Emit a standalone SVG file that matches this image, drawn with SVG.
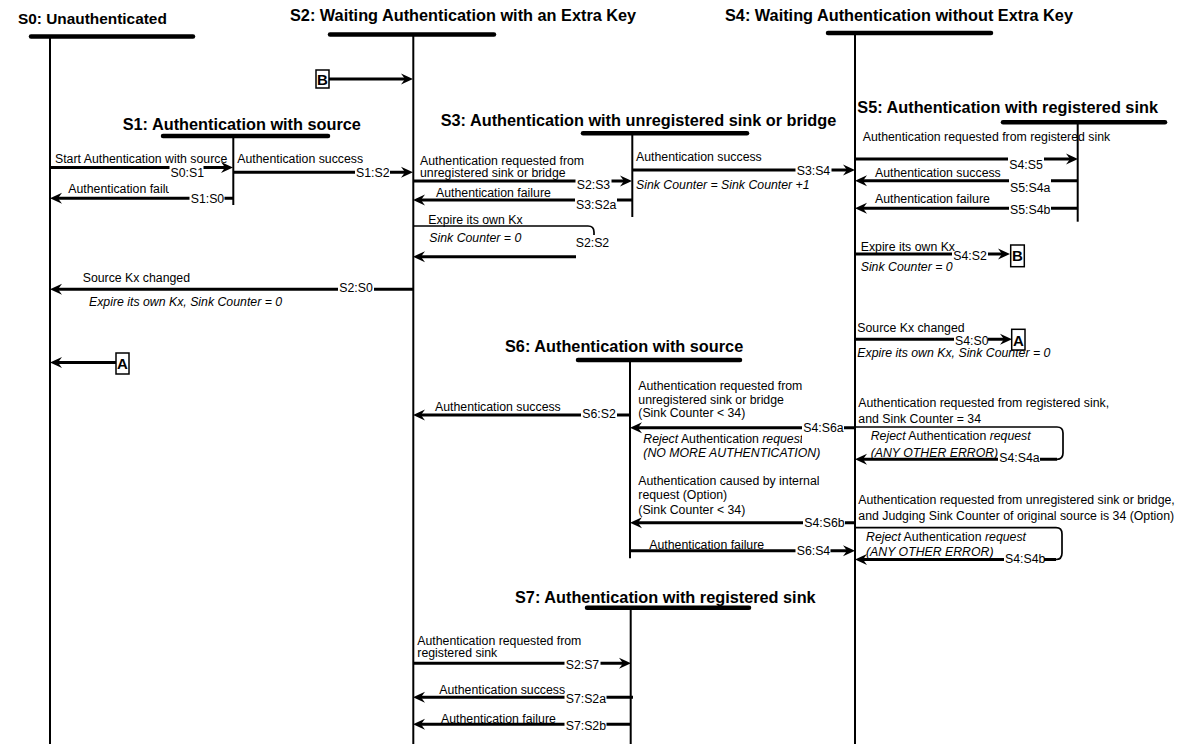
<svg xmlns="http://www.w3.org/2000/svg" width="1177" height="744" viewBox="0 0 1177 744">
<style>
.t{font-family:"Liberation Sans",Arial,sans-serif;font-size:16.3px;font-weight:bold;fill:#000}
.l{font-family:"Liberation Sans",Arial,sans-serif;font-size:12.3px;fill:#000}
.i{font-style:italic}
.bx{font-family:"Liberation Sans",Arial,sans-serif;font-size:15px;font-weight:bold;text-anchor:middle}
.bar{stroke:#000;stroke-width:4.5;stroke-linecap:round}
.life{stroke:#000;stroke-width:2}
.c{stroke:#000;stroke-width:3;fill:none}
.a{marker-end:url(#ah)}
.thin{stroke:#000;stroke-width:1.7;fill:none}
.bg{fill:#fff}
.box{fill:#fff;stroke:#000;stroke-width:1.5}
</style>
<defs>
<marker id="ah" viewBox="0 0 12 12" refX="4" refY="6" markerWidth="12" markerHeight="12" markerUnits="userSpaceOnUse" orient="auto"><path d="M0,0.5 L12,6 L0,11.5 L4,6 Z" fill="#000"/></marker>
<clipPath id="clip1"><rect x="0" y="170" width="169" height="40"/></clipPath>
<clipPath id="clip2"><rect x="600" y="425" width="202" height="25"/></clipPath>
</defs>
<rect width="1177" height="744" fill="#fff"/>

<g id="S0">
<text class="t" x="18" y="24" style="font-size:15.4px">S0: Unauthenticated</text>
<line class="bar" x1="31" y1="36.5" x2="193" y2="36.5"/>
<line class="life" x1="50" y1="36" x2="50" y2="744"/>
</g>
<g id="S2">
<text class="t" x="290" y="21">S2: Waiting Authentication with an Extra Key</text>
<line class="bar" x1="330" y1="34.5" x2="494" y2="34.5"/>
<line class="life" x1="413.3" y1="34" x2="413.3" y2="744"/>
</g>
<g id="S4">
<text class="t" x="725" y="21">S4: Waiting Authentication without Extra Key</text>
<line class="bar" x1="828" y1="33" x2="991" y2="33"/>
<line class="life" x1="855" y1="33" x2="855" y2="744"/>
</g>
<g id="S1">
<text class="t" x="122.7" y="130">S1: Authentication with source</text>
<line class="bar" x1="163" y1="136" x2="328" y2="136"/>
<line class="life" x1="233.3" y1="136" x2="233.3" y2="205"/>
</g>
<g id="S3">
<text class="t" x="440.7" y="125.5">S3: Authentication with unregistered sink or bridge</text>
<line class="bar" x1="583" y1="133.3" x2="747" y2="133.3"/>
<line class="life" x1="632.3" y1="133" x2="632.3" y2="217"/>
</g>
<g id="S5">
<text class="t" x="857.3" y="113.3">S5: Authentication with registered sink</text>
<line class="bar" x1="1003" y1="122.3" x2="1165" y2="122.3"/>
<line class="life" x1="1077.7" y1="122" x2="1077.7" y2="221.7"/>
</g>
<g id="S6">
<text class="t" x="505" y="351.7">S6: Authentication with source</text>
<line class="bar" x1="578" y1="360" x2="740" y2="360"/>
<line class="life" x1="630" y1="360" x2="630" y2="558.3"/>
</g>
<g id="S7">
<text class="t" x="515" y="602.7">S7: Authentication with registered sink</text>
<line class="bar" x1="587" y1="607.7" x2="749" y2="607.7"/>
<line class="life" x1="630.7" y1="607.7" x2="630.7" y2="744"/>
</g>

<g id="connectors">
<!-- lines -->
<path class="c a" d="M329,79 H405"/>
<path class="c a" d="M116,362.5 H58"/>
<path class="c a" d="M50,167.5 H225"/>
<path class="c a" d="M233,172.3 H405"/>
<path class="c a" d="M233,198.3 H58"/>
<path class="c a" d="M413,289.3 H58"/>
<path class="c a" d="M413,181 H624"/>
<path class="c a" d="M632,200 H421"/>
<path class="thin" d="M413,226 H588 Q594,226 594,232 V236"/>
<path class="c a" d="M576,256.7 H421"/>
<path class="c a" d="M632,170 H847"/>
<path class="c a" d="M855,159 H1070"/>
<path class="c a" d="M1078,180.7 H863"/>
<path class="c a" d="M1078,208.3 H863"/>
<path class="c a" d="M855,254 H1002"/>
<path class="c a" d="M855,339.3 H1004"/>
<path class="c a" d="M855,427.7 H638"/>
<path class="thin" d="M855,427 H1057 Q1063,427 1063,433 V453 Q1063,459.3 1057,459.3"/>
<path class="c a" d="M1057,459.3 H863"/>
<path class="c a" d="M630,415 H421"/>
<path class="c a" d="M855,522.7 H638"/>
<path class="c a" d="M630,550.7 H847"/>
<path class="thin" d="M855,527.7 H1056 Q1062,527.7 1062,534 V553 Q1062,559.5 1056,559.5"/>
<path class="c a" d="M1056,559.5 H863"/>
<path class="c a" d="M413,663.3 H623"/>
<path class="c a" d="M633,697.3 H421"/>
<path class="c a" d="M631,724.3 H421"/>

<!-- label backgrounds -->
<rect class="bg" x="169.5" y="165" width="34" height="14"/>
<rect class="bg" x="355" y="165" width="35" height="14"/>
<rect class="bg" x="189.5" y="191" width="35" height="14"/>
<rect class="bg" x="338" y="280" width="36" height="14"/>
<rect class="bg" x="575.5" y="177" width="36" height="14"/>
<rect class="bg" x="575" y="197" width="42" height="14"/>
<rect class="bg" x="575" y="235" width="36" height="14"/>
<rect class="bg" x="795.5" y="163.5" width="36" height="14"/>
<rect class="bg" x="1008" y="157" width="36" height="14"/>
<rect class="bg" x="1009" y="179" width="42" height="14"/>
<rect class="bg" x="1009" y="202" width="42" height="14"/>
<rect class="bg" x="952" y="250" width="36" height="12"/>
<rect class="bg" x="954" y="336" width="34" height="11"/>
<rect class="bg" x="802" y="421" width="42" height="13"/>
<rect class="bg" x="998" y="452.5" width="42" height="12"/>
<rect class="bg" x="581" y="408" width="36" height="13"/>
<rect class="bg" x="803" y="516" width="42" height="13"/>
<rect class="bg" x="795.5" y="545" width="35" height="12.5"/>
<rect class="bg" x="1004" y="554" width="40" height="12"/>
<rect class="bg" x="564.5" y="658" width="36" height="13"/>
<rect class="bg" x="564.5" y="692" width="42" height="13"/>
<rect class="bg" x="564.5" y="719" width="42" height="13"/>

<!-- labels -->
<text class="l" x="55" y="163">Start Authentication with source</text>
<text class="l" x="170.5" y="176.7">S0:S1</text>
<text class="l" x="237.3" y="163">Authentication success</text>
<text class="l" x="356" y="176.5">S1:S2</text>
<text class="l" x="68.3" y="193" clip-path="url(#clip1)">Authentication failure</text>
<text class="l" x="190.7" y="202.5">S1:S0</text>
<text class="l" x="82.7" y="281.5">Source Kx changed</text>
<text class="l" x="339.3" y="291.5">S2:S0</text>
<text class="l i" x="89" y="306">Expire its own Kx, Sink Counter = 0</text>

<text class="l" x="420" y="164.5">Authentication requested from</text>
<text class="l" x="420" y="177">unregistered sink or bridge</text>
<text class="l" x="576.7" y="188.5">S2:S3</text>
<text class="l" x="436" y="197">Authentication failure</text>
<text class="l" x="576" y="208.5">S3:S2a</text>
<text class="l" x="428.3" y="224">Expire its own Kx</text>
<text class="l i" x="429.3" y="241.5">Sink Counter = 0</text>
<text class="l" x="575.7" y="246.5">S2:S2</text>
<text class="l" x="636" y="160.5">Authentication success</text>
<text class="l" x="796.7" y="175">S3:S4</text>
<text class="l i" x="636" y="189">Sink Counter = Sink Counter +1</text>

<text class="l" x="862.7" y="140.5">Authentication requested from registered sink</text>
<text class="l" x="1009.3" y="169.3">S4:S5</text>
<text class="l" x="875" y="177">Authentication success</text>
<text class="l" x="1010" y="191.5">S5:S4a</text>
<text class="l" x="875" y="203">Authentication failure</text>
<text class="l" x="1010" y="214">S5:S4b</text>
<text class="l" x="860.7" y="250.5">Expire its own Kx</text>
<text class="l" x="953.3" y="259.5">S4:S2</text>
<text class="l i" x="860.7" y="270.5">Sink Counter = 0</text>
<text class="l" x="857.3" y="331.5">Source Kx changed</text>
<text class="l" x="955" y="345">S4:S0</text>
<text class="l i" x="857.3" y="356.5">Expire its own Kx, Sink Counter = 0</text>

<text class="l" x="858.3" y="406.5">Authentication requested from registered sink,</text>
<text class="l" x="858.3" y="422.5">and Sink Counter = 34</text>
<text class="l" x="870.7" y="440"><tspan class="i">Reject</tspan> Authentication <tspan class="i">request</tspan></text>
<text class="l i" x="870.7" y="456.5">(ANY OTHER ERROR)</text>
<text class="l" x="999.3" y="461.5">S4:S4a</text>

<text class="l" x="638.3" y="390">Authentication requested from</text>
<text class="l" x="638.3" y="403.5">unregistered sink or bridge</text>
<text class="l" x="638.3" y="417">(Sink Counter &lt; 34)</text>
<text class="l" x="803.3" y="431.5">S4:S6a</text>
<text class="l" x="643.3" y="442.5" clip-path="url(#clip2)"><tspan class="i">Reject</tspan> Authentication <tspan class="i">request</tspan></text>
<text class="l i" x="643.3" y="456.5">(NO MORE AUTHENTICATION)</text>
<text class="l" x="435" y="410.5">Authentication success</text>
<text class="l" x="582.3" y="418">S6:S2</text>
<text class="l" x="638.3" y="485">Authentication caused by internal</text>
<text class="l" x="638.3" y="499">request (Option)</text>
<text class="l" x="638.3" y="513.5">(Sink Counter &lt; 34)</text>
<text class="l" x="804.3" y="526.5">S4:S6b</text>
<text class="l" x="649.3" y="549">Authentication failure</text>
<text class="l" x="796.7" y="555">S6:S4</text>

<text class="l" x="858.3" y="503.5">Authentication requested from unregistered sink or bridge,</text>
<text class="l" x="858.3" y="519.5">and Judging Sink Counter of original source is 34 (Option)</text>
<text class="l" x="866" y="540.5"><tspan class="i">Reject</tspan> Authentication <tspan class="i">request</tspan></text>
<text class="l i" x="866" y="556">(ANY OTHER ERROR)</text>
<text class="l" x="1005" y="563">S4:S4b</text>

<text class="l" x="417.3" y="645">Authentication requested from</text>
<text class="l" x="417.3" y="657">registered sink</text>
<text class="l" x="565.7" y="669">S2:S7</text>
<text class="l" x="439.3" y="693.5">Authentication success</text>
<text class="l" x="565.7" y="702.5">S7:S2a</text>
<text class="l" x="441" y="722.5">Authentication failure</text>
<text class="l" x="565.7" y="729.5">S7:S2b</text>
</g>

<g id="B-in">
<rect class="box" x="316" y="70" width="13" height="18"/>
<text class="bx" x="322.5" y="84.5">B</text>
</g>
<g id="A-in">
<rect class="box" x="116" y="353" width="13" height="21"/>
<text class="bx" x="122.5" y="369">A</text>
</g>
<g id="B-out">
<rect class="box" x="1010.7" y="245" width="13.6" height="21.7"/>
<text class="bx" x="1017.5" y="261">B</text>
</g>
<g id="A-out">
<rect class="box" x="1011.7" y="329.3" width="13.3" height="20.7"/>
<text class="bx" x="1018.3" y="345.5">A</text>
</g>
</svg>
